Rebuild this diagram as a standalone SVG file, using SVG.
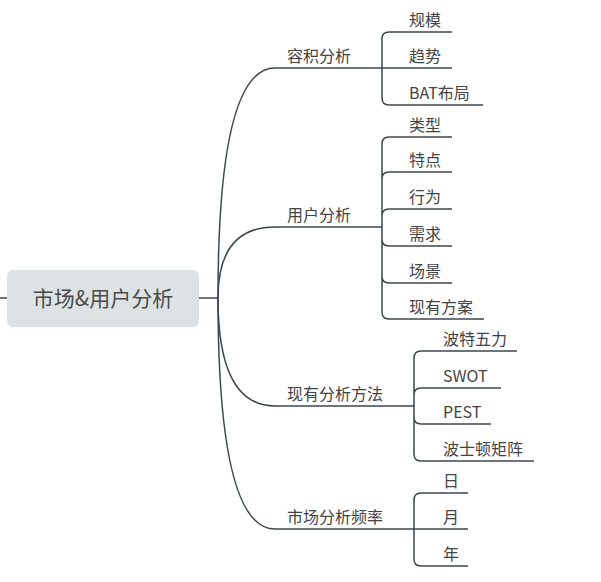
<svg xmlns="http://www.w3.org/2000/svg" width="601" height="582" viewBox="0 0 601 582">
<style>
.ln{fill:none;stroke:#3d4650;stroke-width:1.5;stroke-linecap:butt}
.t{font-family:"Noto Sans CJK SC","Noto Sans",sans-serif;font-size:16px;fill:#444}
.rt{font-family:"Noto Sans CJK SC","Noto Sans",sans-serif;font-size:21px;fill:#4a4a4a}
</style>
<rect width="601" height="582" fill="#fff"/>
<g id="connectors" class="ln">
<path d="M0,298H7M199,298H218"/>
<path d="M218,298Q218,68 275,68"/>
<path d="M218,298Q218,227 275,227"/>
<path d="M218,298Q218,406 275,406"/>
<path d="M218,298Q218,529 275,529"/>
<path d="M380,68H389M389,32Q382,32 382,39V98Q382,105 389,105"/>
<path d="M380,227H382M389,137Q382,137 382,144V312Q382,319 389,319M382,179Q382,172 389,172M382,216Q382,209 389,209M382,239Q382,246 389,246M382,276Q382,283 389,283"/>
<path d="M413,406H414M421,351Q414,351 414,358V454Q414,461 421,461M414,395Q414,388 421,388M414,417Q414,424 421,424"/>
<path d="M413,529H421M421,493Q414,493 414,500V559Q414,566 421,566"/>
</g>
<g id="root">
<rect x="7" y="270" width="192" height="57" rx="6" fill="#dde3e5"/>
<text class="rt" x="103" y="306" text-anchor="middle">市场&amp;用户分析</text>
</g>
<g id="b1"><path class="ln" d="M275,68H380"/><text class="t" x="287" y="62">容积分析</text></g>
<g id="b2"><path class="ln" d="M275,227H380"/><text class="t" x="287" y="221">用户分析</text></g>
<g id="b3"><path class="ln" d="M275,406H413"/><text class="t" x="287" y="400">现有分析方法</text></g>
<g id="b4"><path class="ln" d="M275,529H413"/><text class="t" x="287" y="523">市场分析频率</text></g>
<g id="c1a"><path class="ln" d="M389,32H452"/><text class="t" x="409" y="26">规模</text></g>
<g id="c1b"><path class="ln" d="M389,68H452"/><text class="t" x="409" y="62">趋势</text></g>
<g id="c1c"><path class="ln" d="M389,105H483"/><text class="t" x="409" y="99">BAT布局</text></g>
<g id="c2a"><path class="ln" d="M389,137H452"/><text class="t" x="409" y="131">类型</text></g>
<g id="c2b"><path class="ln" d="M389,172H452"/><text class="t" x="409" y="166">特点</text></g>
<g id="c2c"><path class="ln" d="M389,209H452"/><text class="t" x="409" y="203">行为</text></g>
<g id="c2d"><path class="ln" d="M389,246H452"/><text class="t" x="409" y="240">需求</text></g>
<g id="c2e"><path class="ln" d="M389,283H452"/><text class="t" x="409" y="277">场景</text></g>
<g id="c2f"><path class="ln" d="M389,319H484"/><text class="t" x="409" y="313">现有方案</text></g>
<g id="c3a"><path class="ln" d="M421,351H517"/><text class="t" x="443" y="345">波特五力</text></g>
<g id="c3b"><path class="ln" d="M421,388H501"/><text class="t" x="443" y="382">SWOT</text></g>
<g id="c3c"><path class="ln" d="M421,424H491"/><text class="t" x="443" y="418">PEST</text></g>
<g id="c3d"><path class="ln" d="M421,461H534"/><text class="t" x="443" y="455">波士顿矩阵</text></g>
<g id="c4a"><path class="ln" d="M421,493H468"/><text class="t" x="443" y="487">日</text></g>
<g id="c4b"><path class="ln" d="M421,529H468"/><text class="t" x="443" y="523">月</text></g>
<g id="c4c"><path class="ln" d="M421,566H468"/><text class="t" x="443" y="560">年</text></g>
</svg>
